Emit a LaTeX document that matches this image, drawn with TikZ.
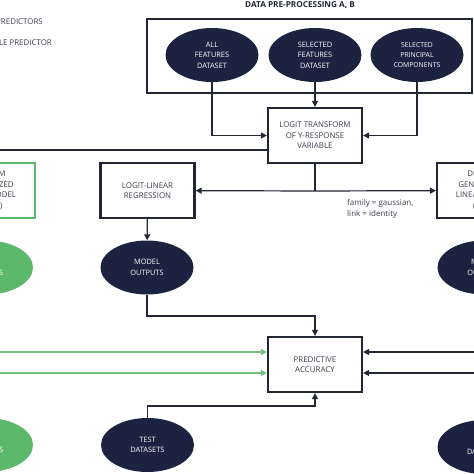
\documentclass[tikz,border=0pt]{standalone}
\usepackage{fontspec}
\setmainfont{Open Sans}
\usepackage{xcolor}
\usetikzlibrary{positioning,shapes,arrows.meta,calc}
\definecolor{navy}{HTML}{1B2340}
\definecolor{ink}{HTML}{232734}
\definecolor{inktext}{HTML}{3C414C}
\definecolor{leaf}{HTML}{5CB96B}
\definecolor{leafline}{HTML}{74C07F}

\begin{document}
\begin{tikzpicture}[x=1pt,y=-1pt,
  stepbox/.style={draw=ink,line width=2.2pt,fill=white,minimum width=94pt,minimum height=55pt,
    inner sep=1pt,align=center,text=inktext,font=\fontsize{7.9}{10.5}\selectfont},
  leafbox/.style={stepbox,draw=leaf},
  dataell/.style={ellipse,fill=navy,minimum width=93pt,minimum height=54pt,inner sep=0pt,
    align=center,text=white,font=\fontsize{7.4}{10.5}\selectfont},
  leafell/.style={dataell,fill=leaf},
  keytext/.style={anchor=east,inner sep=0pt,text=inktext,font=\fontsize{7.9}{9}\selectfont},
  link/.style={draw=ink,line width=1.2pt,-{Triangle[length=6pt,width=6pt]}},
  plain/.style={draw=ink,line width=1.2pt},
  leaflink/.style={link,draw=leafline}]
\useasboundingbox (0,0) rectangle (474,474);
\clip (0,0) rectangle (474,474);

% legend
\node[keytext] (multi) at (43,22) {MULTIPLE PREDICTORS};
\node[keytext] (single) at (52,43) {SINGLE PREDICTOR};

% data pre-processing
\node[text=ink,font=\bfseries\fontsize{8.2}{9}\selectfont] (title) at (300,5) {DATA PRE-PROCESSING A, B};
\node[draw=ink,line width=2.2pt,minimum width=325pt,minimum height=74pt,inner sep=0pt] (prep) at (309.5,56) {};
\node[dataell] (allfeat) at (212,55) {ALL\\FEATURES\\DATASET};
\node[dataell] (selfeat) at (315,55) {SELECTED\\FEATURES\\DATASET};
\node[dataell,font=\fontsize{6.8}{9.8}\selectfont] (selpca) at (417,55) {SELECTED\\PRINCIPAL\\COMPONENTS};
\node[stepbox] (logit) at (315,135.5) {LOGIT TRANSFORM\\OF Y-RESPONSE\\VARIABLE};
\coordinate (split) at (315,191);

% models
\node[leafbox] (gam) at (-12,190.5) {RANDOM\\GENERALIZED\\LINEAR MODEL\\(GLMM)};
\node[stepbox] (linreg) at (147.5,190.5) {LOGIT-LINEAR\\REGRESSION};
\node[stepbox] (glm) at (484,190.5) {DEFAULT\\GENERALIZED\\LINEAR MODEL\\(GLM)};
\node[anchor=north west,inner sep=0pt,align=left,text=inktext,font=\fontsize{8}{11}\selectfont]
  (family) at (347,199) {family = gaussian,\\link = identity};

% outputs
\node[leafell] (gamout) at (-13.5,267.5) {MODEL\\OUTPUTS};
\node[dataell] (mout) at (147,267.5) {MODEL\\OUTPUTS};
\node[dataell] (glmout) at (484,267.5) {MODEL\\OUTPUTS};
\node[stepbox] (acc) at (315,364.5) {PREDICTIVE\\ACCURACY};
\node[leafell] (gamtest) at (-13.5,445) {TEST\\DATASETS};
\node[dataell] (test) at (147.5,445) {TEST\\DATASETS};
\node[dataell] (glmtest) at (484,447) {TEST\\DATASETS};

\coordinate (accin) at (315,316);
\coordinate (accout) at (315,406);
\coordinate (gin1) at (-5,352);
\coordinate (gin2) at (-5,373);
\coordinate (rin1) at (480,352);
\coordinate (rin2) at (480,373);

% connectors
\draw[link] (allfeat) |- (logit);
\draw[link] (selfeat) -- (logit);
\draw[link] (selpca) |- (logit);
\draw[plain] (logit) -- (split);
\draw[link] (split) -- (linreg);
\draw[link] (split) -- (glm);
\draw[link] ($(logit.west)+(0,14.5)$) -| (gam);
\draw[link] (linreg) -- (mout);
\draw[link] (mout) |- (accin) -- (acc);
\draw[link] (test) |- (accout) -- (acc);
\draw[leaflink] (gin1) -- (acc.west |- gin1);
\draw[leaflink] (gin2) -- (acc.west |- gin2);
\draw[link] (rin1) -- (acc.east |- rin1);
\draw[link] (rin2) -- (acc.east |- rin2);
\end{tikzpicture}
\end{document}
